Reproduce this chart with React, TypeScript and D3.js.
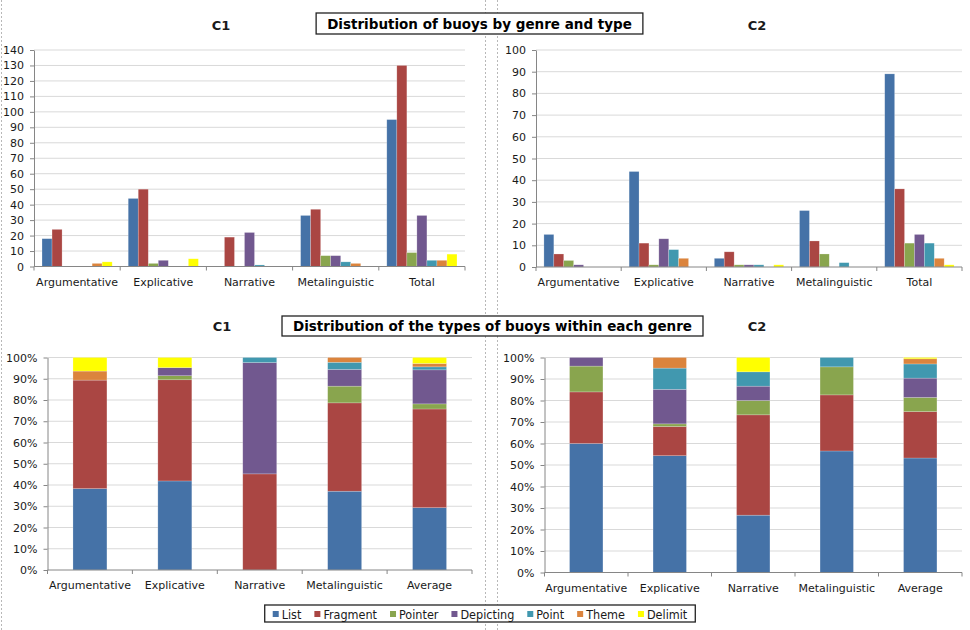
import { useEffect, useRef } from 'react';
import * as d3 from 'd3';

// Genres (top charts: raw counts, bottom charts: share of each type)
const genres = ['Argumentative', 'Explicative', 'Narrative', 'Metalinguistic', 'Total'];
const shareGenres = ['Argumentative', 'Explicative', 'Narrative', 'Metalinguistic', 'Average'];
const types = ['List', 'Fragment', 'Pointer', 'Depicting', 'Point', 'Theme', 'Delimit'];
const typeColors = ['#4572A7', '#AA4643', '#89A54E', '#71588F', '#4198AF', '#DB843D', '#FFFF00'];

// C1 counts per type, in genre order
const c1List = [18, 44, 0, 33, 95];
const c1Fragment = [24, 50, 19, 37, 130];
const c1Pointer = [0, 2, 0, 7, 9];
const c1Depicting = [0, 4, 22, 7, 33];
const c1Point = [0, 0, 1, 3, 4];
const c1Theme = [2, 0, 0, 2, 4];
const c1Delimit = [3, 5, 0, 0, 8];

// C2 counts per type, in genre order
const c2List = [15, 44, 4, 26, 89];
const c2Fragment = [6, 11, 7, 12, 36];
const c2Pointer = [3, 1, 1, 6, 11];
const c2Depicting = [1, 13, 1, 0, 15];
const c2Point = [0, 8, 1, 2, 11];
const c2Theme = [0, 4, 0, 0, 4];
const c2Delimit = [0, 0, 1, 0, 1];

// "Average" column of the lower charts (percent per type)
const c1Average = [29.3, 46.4, 2.4, 16.0, 1.4, 1.6, 2.8];
const c2Average = [53.3, 21.6, 6.6, 9.0, 6.6, 2.4, 0.6];

const c1Series = [c1List, c1Fragment, c1Pointer, c1Depicting, c1Point, c1Theme, c1Delimit];
const c2Series = [c2List, c2Fragment, c2Pointer, c2Depicting, c2Point, c2Theme, c2Delimit];

const FONT = "'DejaVu Sans', Verdana, sans-serif";
const AXIS = '#868686';
const GRID = '#d9d9d9';
const TEXT = '#1a1a1a';

type Box = { left: number; right: number; top: number; bottom: number };

function styleAxis(g: d3.Selection<SVGGElement, unknown, null, undefined>) {
  g.select('.domain').attr('stroke', AXIS);
  g.selectAll('.tick line').attr('stroke', AXIS);
  g.selectAll('.tick text')
    .attr('fill', TEXT)
    .style('font-size', '11px')
    .style('font-family', FONT);
}

function drawCategoryAxis(
  svg: d3.Selection<SVGSVGElement, unknown, null, undefined>,
  x: d3.ScaleBand<string>,
  box: Box,
  cats: string[]
) {
  svg.append('line')
    .attr('x1', box.left).attr('x2', box.right)
    .attr('y1', box.bottom).attr('y2', box.bottom)
    .attr('stroke', AXIS);

  const step = (box.right - box.left) / cats.length;
  d3.range(cats.length + 1).forEach(i => {
    const xx = box.left + i * step;
    svg.append('line')
      .attr('x1', xx).attr('x2', xx)
      .attr('y1', box.bottom).attr('y2', box.bottom + 4)
      .attr('stroke', AXIS);
  });

  cats.forEach((c, i) => {
    svg.append('text')
      .attr('x', box.left + (i + 0.5) * step)
      .attr('y', box.bottom + 19)
      .attr('text-anchor', 'middle')
      .style('font-size', '11px')
      .style('font-family', FONT)
      .attr('fill', TEXT)
      .text(c);
  });
}

function drawGrouped(
  svg: d3.Selection<SVGSVGElement, unknown, null, undefined>,
  series: number[][],
  max: number,
  box: Box
) {
  const x0 = d3.scaleBand().domain(genres).range([box.left, box.right]).padding(0);
  const x1 = d3.scaleBand().domain(types).range([0, x0.bandwidth()])
    .paddingInner(0).paddingOuter(0.8);
  const y = d3.scaleLinear().domain([0, max]).range([box.bottom, box.top]);
  const ticks = d3.range(0, max + 1, 10);

  // gridlines
  svg.append('g').selectAll('line')
    .data(ticks.filter(t => t > 0))
    .join('line')
    .attr('x1', box.left).attr('x2', box.right)
    .attr('y1', d => y(d)).attr('y2', d => y(d))
    .attr('stroke', GRID);

  // bars
  types.forEach((t, ti) => {
    svg.append('g').selectAll('rect')
      .data(genres.map((g, gi) => ({ g, v: series[ti][gi] })).filter(d => d.v > 0))
      .join('rect')
      .attr('x', d => (x0(d.g) as number) + (x1(t) as number))
      .attr('y', d => y(d.v))
      .attr('width', x1.bandwidth())
      .attr('height', d => box.bottom - y(d.v))
      .attr('fill', typeColors[ti])
      .attr('stroke', '#ffffff')
      .attr('stroke-opacity', 0.35)
      .attr('stroke-width', 0.6);
  });

  const ax = svg.append('g')
    .attr('transform', `translate(${box.left},0)`)
    .call(d3.axisLeft(y).tickValues(ticks).tickSize(4).tickSizeOuter(0).tickPadding(6));
  styleAxis(ax);

  drawCategoryAxis(svg, x0, box, genres);
}

function drawStacked(
  svg: d3.Selection<SVGSVGElement, unknown, null, undefined>,
  series: number[][],
  average: number[],
  box: Box
) {
  const rows = shareGenres.map((g, gi) => {
    const row: Record<string, any> = { genre: g };
    types.forEach((t, ti) => {
      row[t] = gi < 4 ? series[ti][gi] : average[ti];
    });
    return row;
  });
  const stacked = d3.stack<Record<string, any>>().keys(types).offset(d3.stackOffsetExpand)(rows);

  const x = d3.scaleBand().domain(shareGenres).range([box.left, box.right])
    .paddingInner(0.6).paddingOuter(0.3);
  const y = d3.scaleLinear().domain([0, 1]).range([box.bottom, box.top]);
  const ticks = d3.range(0, 11).map(i => i / 10);

  svg.append('g').selectAll('line')
    .data(ticks.filter(t => t > 0))
    .join('line')
    .attr('x1', box.left).attr('x2', box.right)
    .attr('y1', d => y(d)).attr('y2', d => y(d))
    .attr('stroke', GRID);

  stacked.forEach((layer, li) => {
    svg.append('g').selectAll('rect')
      .data(layer.filter(d => d[1] - d[0] > 0))
      .join('rect')
      .attr('x', d => x(d.data.genre) as number)
      .attr('y', d => y(d[1]))
      .attr('width', x.bandwidth())
      .attr('height', d => y(d[0]) - y(d[1]))
      .attr('fill', typeColors[li])
      .attr('stroke', '#ffffff')
      .attr('stroke-opacity', 0.35)
      .attr('stroke-width', 0.6);
  });

  const ax = svg.append('g')
    .attr('transform', `translate(${box.left},0)`)
    .call(d3.axisLeft(y).tickValues(ticks).tickFormat(d3.format('.0%'))
      .tickSize(4).tickSizeOuter(0).tickPadding(6));
  styleAxis(ax);

  drawCategoryAxis(svg, x, box, shareGenres);
}

export default function App() {
  const svgRef = useRef<SVGSVGElement>(null);

  useEffect(() => {
    if (!svgRef.current) return;
    const svg = d3.select(svgRef.current);
    svg.selectAll('*').remove();

    svg.append('rect').attr('width', 970).attr('height', 630).attr('fill', '#fff');

    // dashed frame edges of the four chart objects
    [1.5, 485.5, 497.5].forEach(xx => {
      svg.append('line')
        .attr('x1', xx).attr('x2', xx).attr('y1', 0).attr('y2', 630)
        .attr('stroke', '#b8b8b8')
        .attr('stroke-dasharray', '2,2');
    });

    drawGrouped(svg, c1Series, 140, { left: 34, right: 465, top: 50, bottom: 266.5 });
    drawGrouped(svg, c2Series, 100, { left: 536, right: 962, top: 50, bottom: 267 });
    drawStacked(svg, c1Series, c1Average, { left: 47.5, right: 472, top: 357.5, bottom: 570 });
    drawStacked(svg, c2Series, c2Average, { left: 544.5, right: 962, top: 357.5, bottom: 572.5 });

    // panel titles
    const titles = [
      { t: 'C1', x: 221, y: 30 },
      { t: 'C2', x: 757, y: 30 },
      { t: 'C1', x: 222, y: 331 },
      { t: 'C2', x: 757, y: 331 },
    ];
    titles.forEach(d => {
      svg.append('text')
        .attr('x', d.x).attr('y', d.y)
        .attr('text-anchor', 'middle')
        .style('font-size', '13px')
        .style('font-weight', 'bold')
        .style('font-family', FONT)
        .attr('fill', TEXT)
        .text(d.t);
    });

    // boxed main titles
    const mainTitles = [
      { t: 'Distribution of buoys by genre and type', cx: 479.5, top: 13, h: 21 },
      { t: 'Distribution of the types of buoys within each genre', cx: 492.5, top: 316, h: 20 },
    ];
    mainTitles.forEach(d => {
      const g = svg.append('g');
      const rect = g.append('rect');
      const txt = g.append('text')
        .attr('x', d.cx).attr('y', d.top + d.h / 2 + 5)
        .attr('text-anchor', 'middle')
        .style('font-size', '13.5px')
        .style('font-weight', 'bold')
        .style('font-family', FONT)
        .attr('fill', '#000')
        .text(d.t);
      const w = (txt.node() as SVGTextElement).getComputedTextLength() + 22;
      rect.attr('x', d.cx - w / 2).attr('y', d.top)
        .attr('width', w).attr('height', d.h)
        .attr('fill', '#fff').attr('stroke', '#222').attr('stroke-width', 1.3);
    });

    // legend
    const lg = svg.append('g');
    const frame = lg.append('rect');
    let cursor = 0;
    types.forEach((t, i) => {
      lg.append('rect')
        .attr('x', cursor).attr('y', 611)
        .attr('width', 6).attr('height', 6)
        .attr('fill', typeColors[i]);
      const txt = lg.append('text')
        .attr('x', cursor + 9).attr('y', 618.5)
        .style('font-size', '12.5px')
        .style('font-family', "'DejaVu Sans Condensed', 'DejaVu Sans', sans-serif")
        .attr('fill', TEXT)
        .text(t);
      const len = (txt.node() as SVGTextElement).getComputedTextLength();
      cursor += 9 + len + (i < types.length - 1 ? 13 : 0);
    });
    const legendW = cursor + 16;
    const legendLeft = 480 - legendW / 2;
    lg.attr('transform', `translate(${legendLeft + 8},0)`);
    frame.attr('x', -8).attr('y', 605)
      .attr('width', legendW).attr('height', 17)
      .attr('fill', '#fff').attr('stroke', '#222').attr('stroke-width', 1.3);
  }, []);

  return (
    <div style={{ position: 'absolute', left: 0, top: 0 }}>
      <svg ref={svgRef} width={970} height={630} style={{ display: 'block' }} />
    </div>
  );
}
